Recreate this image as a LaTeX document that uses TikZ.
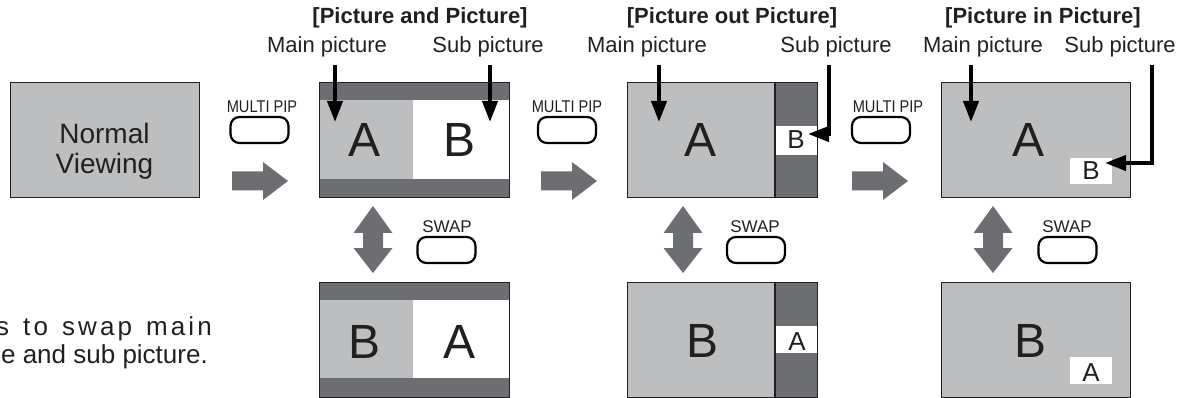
\documentclass[tikz,border=0pt]{standalone}
\usepackage{fontspec}
\setmainfont{Liberation Sans}
\newfontfamily\narrowfont[FakeStretch=0.86]{Liberation Sans}
\usetikzlibrary{arrows.meta}
\definecolor{lightgr}{HTML}{BCBEC0}
\definecolor{darkgr}{HTML}{6D6E71}
\definecolor{ink}{HTML}{231F20}
\begin{document}
\begin{tikzpicture}[x=1pt,y=-1pt,
  screen/.style={draw=ink,line width=1.3pt,minimum width=190pt,minimum height=115pt,inner sep=0pt,anchor=north west},
  pointer/.style={line width=4pt,line join=miter,-{Triangle[length=21pt,width=15pt]}},
  btn/.style={draw=black,line width=2.2pt,rounded corners=9pt,minimum width=58pt,minimum height=26pt,inner sep=0pt},
  lbl/.style={font=\fontsize{22}{24}\selectfont,anchor=base,inner sep=0pt,text=ink},
  ttl/.style={font=\bfseries\fontsize{22}{24}\selectfont,anchor=base,inner sep=0pt,text=ink},
  bigletter/.style={font=\fontsize{48}{50}\selectfont,anchor=base,inner sep=0pt,text=ink},
  smallletter/.style={font=\fontsize{26}{28}\selectfont,anchor=base,inner sep=0pt,text=ink},
  mp/.style={font=\narrowfont\fontsize{17}{19}\selectfont,anchor=base,inner sep=0pt,text=ink},
  sw/.style={font=\fontsize{17}{19}\selectfont,anchor=base,inner sep=0pt,text=ink},
  note/.style={font=\fontsize{26}{28}\selectfont,anchor=base east,inner sep=0pt,text=ink},
  divider/.style={draw=ink,line width=1.3pt},
  fatright/.pic={\fill[darkgr] (0,-9.5) -- (31,-9.5) -- (31,-19) -- (56,0) -- (31,19) -- (31,9.5) -- (0,9.5) -- cycle;},
  swaparrow/.pic={\fill[darkgr] (0,0) -- (19.5,27) -- (10,27) -- (10,42) -- (19.5,42) -- (0,67) -- (-19.5,42) -- (-10,42) -- (-10,27) -- (-19.5,27) -- cycle;}
]
\useasboundingbox (0,0) rectangle (1194,398);

% Normal viewing
\fill[lightgr] (10,82) rectangle (199,197);
\node[screen,minimum width=189pt] (normal) at (10,82) {};
\node[font=\fontsize{28}{30}\selectfont,align=center,inner sep=0pt,text=ink] (nv) at (104.5,151) {Normal\\Viewing};

% MULTI PIP 1
\node[mp] (mp1) at (262,113) {MULTI PIP};
\node[btn] (b1) at (259.5,130) {};
\pic at (232,181) {fatright};

% Picture and Picture (top)
\fill[lightgr] (319,100) rectangle (413,179);
\fill[white] (413,100) rectangle (509,179);
\fill[darkgr] (319,82) rectangle (509,100);
\fill[darkgr] (319,179) rectangle (509,197);
\node[screen] (pap) at (319,82) {};
\node[bigletter] (papA) at (365,157) {A};
\node[bigletter] (papB) at (460,157) {B};
\node[ttl] (t1) at (420,24) {[Picture and Picture]};
\node[lbl] (m1) at (327,53) {Main picture};
\node[lbl] (s1) at (488,53) {Sub picture};
\coordinate (m1s) at (335,65); \coordinate (m1e) at (335,122);
\coordinate (s1s) at (490,65); \coordinate (s1e) at (490,122);
\draw[pointer] (m1s) -- (m1e);
\draw[pointer] (s1s) -- (s1e);

% swap 1
\pic at (373,206) {swaparrow};
\node[sw] (sw1) at (447,233) {SWAP};
\node[btn] (sb1) at (446.5,250) {};

% Picture and Picture (bottom)
\fill[lightgr] (319,300) rectangle (413,378);
\fill[white] (413,300) rectangle (509,378);
\fill[darkgr] (319,282) rectangle (509,300);
\fill[darkgr] (319,378) rectangle (509,397);
\node[screen] (papb) at (319,282) {};
\node[bigletter] (papbB) at (365,358) {B};
\node[bigletter] (papbA) at (460,358) {A};

% MULTI PIP 2
\node[mp] (mp2) at (567,113) {MULTI PIP};
\node[btn] (b2) at (567,130) {};
\pic at (541,181) {fatright};

% Picture out Picture (top)
\fill[lightgr] (627,82) rectangle (775,197);
\fill[darkgr] (775,82) rectangle (817,197);
\fill[white] (775,126) rectangle (817,155);
\draw[divider] (775,82) -- (775,197);
\node[screen] (pop) at (627,82) {};
\node[bigletter] (popA) at (700,157) {A};
\node[smallletter] (popB) at (796,149) {B};
\node[ttl] (t2) at (732,24) {[Picture out Picture]};
\node[lbl] (m2) at (647,53) {Main picture};
\node[lbl] (s2) at (836,53) {Sub picture};
\coordinate (m2s) at (659,65); \coordinate (m2e) at (659,122);
\coordinate (s2s) at (829,65); \coordinate (s2e) at (808,134);
\draw[pointer] (m2s) -- (m2e);
\draw[pointer] (s2s) |- (s2e);

% swap 2
\pic at (683,206) {swaparrow};
\node[sw] (sw2) at (755,233) {SWAP};
\node[btn] (sb2) at (756,250) {};

% Picture out Picture (bottom)
\fill[lightgr] (627,282) rectangle (775,397);
\fill[darkgr] (775,282) rectangle (817,397);
\fill[white] (775,326) rectangle (817,353);
\draw[divider] (775,282) -- (775,397);
\node[screen] (popb) at (627,282) {};
\node[bigletter] (popbB) at (702,357) {B};
\node[smallletter] (popbA) at (797,350) {A};

% MULTI PIP 3
\node[mp] (mp3) at (888,113) {MULTI PIP};
\node[btn] (b3) at (881,130) {};
\pic at (852,181) {fatright};

% Picture in Picture (top)
\fill[lightgr] (941,82) rectangle (1130,197);
\fill[white] (1070,158) rectangle (1112,184);
\node[screen,minimum width=189pt] (pip) at (941,82) {};
\node[bigletter] (pipA) at (1028,157) {A};
\node[smallletter] (pipB) at (1091,180) {B};
\node[ttl] (t3) at (1043,24) {[Picture in Picture]};
\node[lbl] (m3) at (983,53) {Main picture};
\node[lbl] (s3) at (1120,53) {Sub picture};
\coordinate (m3s) at (971,65); \coordinate (m3e) at (971,122);
\coordinate (s3s) at (1152,65); \coordinate (s3e) at (1105,163);
\draw[pointer] (m3s) -- (m3e);
\draw[pointer] (s3s) |- (s3e);

% swap 3
\pic at (993,206) {swaparrow};
\node[sw] (sw3) at (1067,233) {SWAP};
\node[btn] (sb3) at (1067.5,250) {};

% Picture in Picture (bottom)
\fill[lightgr] (941,282) rectangle (1130,397);
\fill[white] (1070,357) rectangle (1112,384);
\node[screen,minimum width=189pt] (pipb) at (941,282) {};
\node[bigletter] (pipbB) at (1030,357) {B};
\node[smallletter] (pipbA) at (1091,381) {A};

% note text
\node[note] (n1) at (212,335) {\addfontfeature{LetterSpace=12}s\hspace{14pt}to\hspace{14pt}swap\hspace{14pt}main};
\node[note] (n2) at (208,363) {e and sub picture.};
\end{tikzpicture}
\end{document}
